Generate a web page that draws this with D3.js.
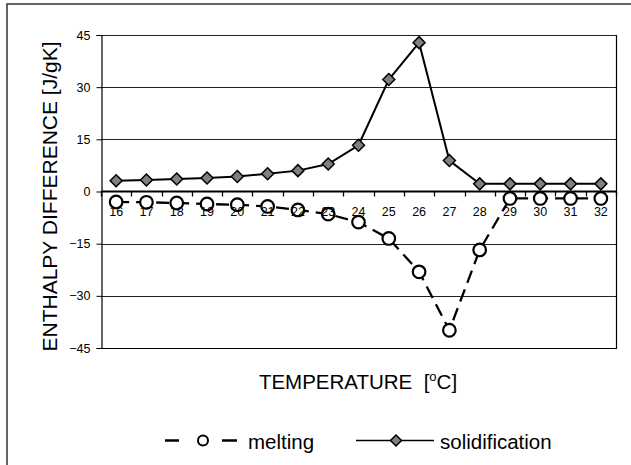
<!DOCTYPE html>
<html>
<head>
<meta charset="utf-8">
<script src="https://cdn.jsdelivr.net/npm/d3@7/dist/d3.min.js"></script>
<style>
  html, body { margin: 0; padding: 0; background: #fff; }
  svg { display: block; font-family: "Liberation Sans", Arial, sans-serif; }
</style>
</head>
<body>
<svg id="chart" width="631" height="465"></svg>
<script>
// ---- data ----
const temperatures = [16, 17, 18, 19, 20, 21, 22, 23, 24, 25, 26, 27, 28, 29, 30, 31, 32];
const melting = [-3.0, -3.1, -3.3, -3.6, -3.8, -4.3, -5.3, -6.5, -8.8, -13.5, -23.1, -39.9, -16.8, -2.0, -2.0, -2.0, -2.0];
const solidification = [3.1, 3.3, 3.6, 3.9, 4.3, 5.1, 6.0, 7.9, 13.3, 32.2, 42.8, 8.9, 2.2, 2.2, 2.2, 2.2, 2.2];
const yTicks = [-45, -30, -15, 0, 15, 30, 45];
const seriesNames = ["melting", "solidification"];
const yTitle = "ENTHALPY DIFFERENCE [J/gK]";

// ---- layout ----
const svg = d3.select("#chart");
const L = 101, R = 616, T = 35, B = 348;

// outer frame
svg.append("rect").attr("x", 7).attr("y", 4).attr("width", 700).attr("height", 600)
  .attr("fill", "none").attr("stroke", "#333").attr("stroke-width", 1.5);

const x = d3.scaleBand().domain(temperatures).range([L, R]).padding(0);
const y = d3.scaleLinear().domain([-45, 45]).range([B, T]);
const cx = d => x(d) + x.bandwidth() / 2;

// gridlines
svg.append("g").selectAll("line").data(yTicks.filter(v => v !== 0 && v !== -45))
  .join("line")
  .attr("x1", L).attr("x2", R)
  .attr("y1", d => Math.round(y(d)) + 0.5).attr("y2", d => Math.round(y(d)) + 0.5)
  .attr("stroke", "#222").attr("stroke-width", 1);

// plot border (right, bottom)
svg.append("path")
  .attr("d", `M${R + 0.5},${T}V${B + 0.5}H${L}`)
  .attr("fill", "none").attr("stroke", "#000").attr("stroke-width", 1.2);

// y axis
const yAxis = svg.append("g").attr("transform", `translate(${L + 0.5},0)`)
  .call(d3.axisLeft(y).tickValues(yTicks).tickSize(5).tickPadding(6).tickFormat(d3.format("d")));
yAxis.select(".domain").attr("stroke", "#000").attr("stroke-width", 1.2);
yAxis.selectAll(".tick line").attr("stroke", "#000");
yAxis.selectAll("text").attr("font-size", "12.5px").attr("font-family", "Liberation Sans, Arial, sans-serif").attr("fill", "#000");

// series lines
const line = d3.line().x((d, i) => cx(temperatures[i])).y(d => y(d));

svg.append("path").datum(melting)
  .attr("d", line).attr("fill", "none").attr("stroke", "#000")
  .attr("stroke-width", 2.3).attr("stroke-dasharray", "13,7");

svg.append("path").datum(solidification)
  .attr("d", line).attr("fill", "none").attr("stroke", "#000")
  .attr("stroke-width", 2);

// zero axis line (x axis)
const y0 = y(0);
const xAxis = svg.append("g").attr("transform", `translate(0,${y0})`)
  .call(d3.axisBottom(x).tickSize(0).tickPadding(0));
xAxis.select(".domain").remove();
svg.append("line").attr("x1", L).attr("x2", R + 1).attr("y1", y0).attr("y2", y0)
  .attr("stroke", "#000").attr("stroke-width", 2.2);
// boundary tick marks
const bounds = temperatures.map(t => x(t)).concat([R]);
svg.append("g").selectAll("line").data(bounds).join("line")
  .attr("x1", d => Math.round(d) + 0.5).attr("x2", d => Math.round(d) + 0.5)
  .attr("y1", y0).attr("y2", y0 + 5)
  .attr("stroke", "#000").attr("stroke-width", 1.3);

// markers
svg.append("g").selectAll("circle").data(melting).join("circle")
  .attr("cx", (d, i) => cx(temperatures[i])).attr("cy", d => y(d))
  .attr("r", 6.3).attr("fill", "#fff").attr("stroke", "#000").attr("stroke-width", 2.2);

const diamond = s => `M0,${-s}L${s},0L0,${s}L${-s},0Z`;
svg.append("g").selectAll("path").data(solidification).join("path")
  .attr("transform", (d, i) => `translate(${cx(temperatures[i])},${y(d)})`)
  .attr("d", diamond(6)).attr("fill", "#808080").attr("stroke", "#000").attr("stroke-width", 1.5);

// x tick labels on top
xAxis.raise();
xAxis.selectAll("text")
  .attr("y", 24.5).attr("dy", 0)
  .attr("font-size", "12.5px").attr("font-family", "Liberation Sans, Arial, sans-serif").attr("fill", "#000");

// axis titles
svg.append("text")
  .attr("transform", "translate(57,196.5) rotate(-90)")
  .attr("text-anchor", "middle").attr("font-size", "21px").attr("fill", "#000")
  .text(yTitle);

const xt = svg.append("text").attr("x", 358).attr("y", 389)
  .attr("text-anchor", "middle").attr("font-size", "20.5px").attr("fill", "#000");
xt.append("tspan").text("TEMPERATURE\u00A0\u00A0[");
xt.append("tspan").attr("dy", -8).attr("font-size", "13px").text("o");
xt.append("tspan").attr("dy", 8).text("C]");

// legend
const ly = 440.5;
const leg = svg.append("g");
leg.append("line").attr("x1", 165).attr("x2", 179).attr("y1", ly).attr("y2", ly)
  .attr("stroke", "#000").attr("stroke-width", 2.5);
leg.append("line").attr("x1", 222).attr("x2", 237).attr("y1", ly).attr("y2", ly)
  .attr("stroke", "#000").attr("stroke-width", 2.5);
leg.append("circle").attr("cx", 203).attr("cy", ly).attr("r", 5)
  .attr("fill", "#fff").attr("stroke", "#000").attr("stroke-width", 2);
leg.append("text").attr("x", 248).attr("y", 448.5).attr("font-size", "20.5px").attr("fill", "#000")
  .text(seriesNames[0]);
leg.append("line").attr("x1", 356).attr("x2", 434).attr("y1", ly).attr("y2", ly)
  .attr("stroke", "#000").attr("stroke-width", 1.5);
leg.append("path").attr("transform", `translate(396,${ly})`).attr("d", diamond(5.5))
  .attr("fill", "#808080").attr("stroke", "#000").attr("stroke-width", 1.5);
leg.append("text").attr("x", 440).attr("y", 448.5).attr("font-size", "20.5px").attr("fill", "#000")
  .text(seriesNames[1]);
</script>
</body>
</html>
